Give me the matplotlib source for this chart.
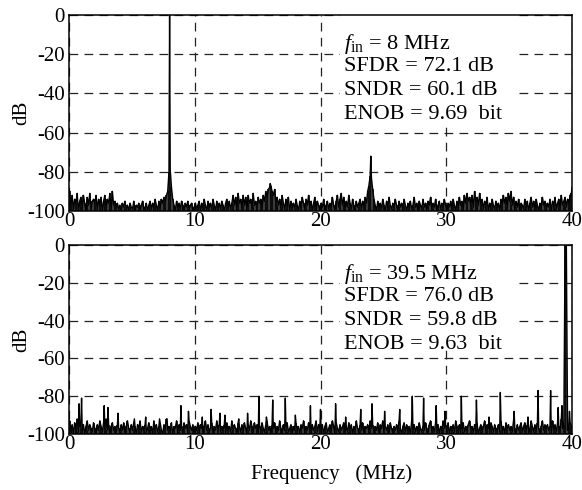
import numpy as np
import matplotlib

matplotlib.use("Agg")

import matplotlib.pyplot as plt
from matplotlib.patches import Rectangle

plt.rcParams["font.family"] = ["Liberation Serif", "DejaVu Serif"]
plt.rcParams["mathtext.fontset"] = "custom"
plt.rcParams["mathtext.rm"] = "Liberation Serif"
plt.rcParams["mathtext.it"] = "Liberation Serif:italic"
plt.rcParams["axes.unicode_minus"] = False
plt.rcParams["font.size"] = 15

# FFT bins (MHz), noise floor, one row per 2 MHz
bin_mhz = np.arange(0.05, 40.0, 0.1)

top_noise_db = [
    -90, -97, -92, -99, -94, -96, -91, -100, -95, -93, -98, -92, -96, -100, -93, -97, -91, -99, -95, -94,
    -96, -92, -99, -94, -97, -93, -100, -95, -92, -98, -94, -96, -91, -99, -90, -97, -95, -98, -96, -99,
    -97, -100, -96, -98, -95, -99, -97, -100, -96, -98, -99, -95, -100, -97, -98, -96, -100, -97, -95, -99,
    -98, -96, -100, -97, -95, -99, -96, -98, -94, -97, -100, -95, -98, -94, -96, -93, -95, -92, -90, -80,
    -79, -88, -94, -97, -100, -95, -98, -96, -99, -95, -97, -100, -96, -98, -95, -99, -97, -96, -100, -98,
    -96, -99, -97, -95, -100, -96, -98, -94, -97, -100, -95, -98, -96, -99, -94, -97, -100, -95, -98, -96,
    -99, -95, -97, -100, -96, -94, -98, -95, -99, -96, -92, -97, -93, -99, -91, -96, -94, -98, -92, -97,
    -93, -99, -92, -96, -94, -98, -91, -97, -95, -99, -93, -96, -94, -98, -92, -95, -90, -93, -89, -88,
    -87, -90, -92, -89, -95, -93, -97, -94, -98, -92, -96, -99, -94, -97, -93, -100, -95, -98, -96, -99,
    -94, -97, -100, -95, -98, -93, -96, -99, -94, -97, -92, -98, -95, -100, -96, -93, -99, -95, -97, -100,
    -96, -98, -94, -100, -97, -95, -99, -96, -98, -93, -97, -100, -95, -92, -98, -94, -91, -97, -93, -99,
    -95, -98, -92, -96, -99, -94, -97, -100, -95, -98, -96, -94, -99, -95, -97, -93, -96, -90, -87, -82,
    -83, -89, -94, -97, -100, -95, -98, -96, -99, -94, -97, -100, -95, -98, -93, -97, -99, -96, -98, -94,
    -97, -100, -95, -98, -96, -99, -94, -97, -100, -96, -98, -95, -99, -97, -93, -98, -96, -100, -95, -97,
    -99, -94, -98, -96, -100, -95, -97, -93, -99, -96, -98, -94, -100, -97, -95, -99, -96, -98, -94, -97,
    -100, -96, -98, -95, -99, -94, -97, -100, -95, -98, -93, -97, -95, -99, -92, -96, -91, -95, -93, -97,
    -92, -98, -90, -95, -93, -97, -91, -96, -94, -99, -95, -97, -93, -100, -96, -98, -94, -97, -99, -95,
    -98, -96, -100, -94, -97, -92, -96, -93, -98, -91, -95, -90, -97, -93, -99, -95, -98, -94, -100, -96,
    -97, -99, -94, -98, -95, -100, -96, -93, -98, -95, -99, -94, -97, -100, -96, -98, -93, -97, -95, -99,
    -96, -98, -94, -100, -95, -97, -93, -99, -96, -94, -98, -92, -97, -95, -93, -98, -94, -96, -92, -91,
]
top_spur_mhz = [8.0, 16.0, 24.0, 40.0]
top_spur_db = [0, -86, -72, -88]

bot_noise_db = [
    -93, -98, -95, -100, -94, -97, -92, -99, -96, -94, -98, -95, -100, -96, -93, -98, -95, -97, -99, -94,
    -97, -100, -95, -98, -93, -96, -99, -94, -97, -92, -98, -95, -100, -96, -94, -98, -96, -99, -95, -97,
    -99, -95, -98, -94, -100, -96, -93, -97, -99, -95, -98, -94, -96, -100, -95, -97, -93, -99, -96, -98,
    -95, -99, -97, -94, -98, -96, -100, -93, -97, -95, -99, -96, -94, -98, -100, -95, -97, -92, -98, -96,
    -98, -94, -100, -96, -97, -93, -99, -95, -98, -96, -100, -94, -97, -95, -99, -93, -96, -98, -95, -100,
    -96, -98, -94, -99, -95, -97, -100, -96, -93, -98, -95, -99, -97, -94, -100, -96, -98, -93, -97, -95,
    -99, -96, -98, -95, -100, -94, -97, -96, -99, -93, -98, -95, -97, -100, -94, -96, -99, -95, -98, -94,
    -97, -100, -95, -98, -93, -96, -99, -94, -97, -95, -100, -96, -98, -94, -97, -99, -95, -93, -98, -96,
    -100, -95, -97, -94, -99, -96, -98, -93, -97, -100, -95, -98, -96, -94, -99, -97, -95, -100, -96, -98,
    -94, -98, -96, -100, -95, -97, -93, -99, -96, -98, -94, -97, -100, -95, -98, -96, -93, -99, -95, -97,
    -98, -95, -100, -96, -94, -99, -97, -95, -98, -93, -96, -100, -94, -97, -99, -95, -98, -96, -94, -100,
    -96, -99, -94, -97, -95, -100, -96, -98, -93, -97, -99, -95, -98, -94, -100, -96, -97, -95, -99, -93,
    -97, -95, -99, -96, -98, -94, -100, -95, -97, -93, -99, -96, -98, -95, -100, -94, -97, -99, -96, -98,
    -95, -98, -93, -97, -100, -96, -94, -99, -95, -98, -96, -100, -93, -97, -95, -99, -96, -98, -94, -97,
    -99, -96, -98, -94, -97, -100, -95, -93, -98, -96, -99, -94, -97, -95, -100, -96, -98, -93, -97, -95,
    -98, -94, -100, -96, -97, -95, -99, -93, -96, -98, -95, -100, -97, -94, -99, -96, -98, -95, -93, -97,
    -96, -99, -95, -98, -94, -100, -97, -95, -99, -96, -93, -98, -95, -97, -100, -94, -96, -99, -95, -98,
    -97, -95, -99, -93, -98, -96, -100, -94, -97, -95, -98, -96, -99, -93, -97, -100, -95, -98, -96, -94,
    -99, -96, -94, -98, -95, -100, -97, -93, -96, -99, -95, -98, -94, -97, -100, -96, -93, -98, -95, -97,
    -95, -98, -96, -100, -93, -97, -95, -99, -94, -96, -98, -92, -97, -95, 0, 0, -98, -97, -94, -96,
]
bot_spur_mhz = [0.8, 1.0, 2.8, 3.1, 3.9, 5.2, 6.1, 7.2, 7.8, 8.9, 9.5, 10.6, 11.3, 12.0, 12.4,
                13.5, 14.2, 15.1, 15.7, 16.2, 17.2, 18.0, 19.2, 20.0, 21.2, 22.0, 23.2, 24.1, 25.1, 26.3,
                27.3, 28.2, 29.2, 29.9, 31.2, 32.4, 33.4, 34.3, 35.4, 36.5, 37.3, 38.3, 38.9, 39.2, 39.8]
bot_spur_db = [-84, -81, -85, -86, -89, -92, -91, -92, -92, -85, -88, -91, -87, -89, -90,
               -92, -89, -80, -91, -82, -81, -90, -85, -87, -84, -91, -87, -84, -88, -87,
               -80, -81, -85, -88, -80, -82, -91, -78, -88, -91, -77, -77, -86, -85, -88]

top_notes = ["$f_{\\mathrm{in}}$ = 8 MHz", "SFDR = 72.1 dB", "SNDR = 60.1 dB", "ENOB = 9.69  bit"]
bot_notes = ["$f_{\\mathrm{in}}$ = 39.5 MHz", "SFDR = 76.0 dB", "SNDR = 59.8 dB", "ENOB = 9.63  bit"]
x_ticks = [0, 10, 20, 30, 40]
y_ticks = [0, -20, -40, -60, -80, -100]


def spectrum(noise_db, spur_mhz, spur_db):
    f = np.concatenate([bin_mhz, spur_mhz])
    p = np.concatenate([noise_db, spur_db])
    order = np.argsort(f, kind="stable")
    return f[order], p[order]


def draw_panel(ax, noise_db, spur_mhz, spur_db, notes):
    f, p = spectrum(noise_db, spur_mhz, spur_db)
    ax.vlines(bin_mhz, -100, noise_db, color="k", lw=1.1, zorder=3)
    ax.plot(f, p, color="k", lw=1.0, zorder=3)
    ax.set_xlim(0, 40)
    ax.set_ylim(-100, 0)
    ax.set_xticks(x_ticks)
    ax.set_yticks(y_ticks)
    ax.grid(True, color="#222222", lw=0.9, linestyle=(0, (7, 5)))
    ax.tick_params(direction="in", length=0, pad=3)
    ax.tick_params(axis="x", pad=1)
    for s in ax.spines.values():
        s.set_linewidth(1.1)
        s.set_zorder(4)
    ax.set_ylabel("dB", labelpad=-3)
    # white panel behind the figures of merit, hides the grid there
    ax.add_patch(Rectangle((0.538, 0.45), 0.357, 0.55, transform=ax.transAxes,
                           facecolor="white", edgecolor="none", zorder=2))
    for i, line in enumerate(notes):
        ax.annotate(line, xy=(0.546, 1.0), xycoords="axes fraction",
                    xytext=(0, -25 - 24 * i), textcoords="offset pixels",
                    ha="left", va="center_baseline", fontsize=16, zorder=5)


fig = plt.figure(figsize=(5.82, 4.90), dpi=100)
ax_top = fig.add_axes([69 / 582, 1 - 211 / 490, 503 / 582, 196 / 490])
ax_bot = fig.add_axes([69 / 582, 1 - 434 / 490, 503 / 582, 189 / 490])

draw_panel(ax_top, top_noise_db, top_spur_mhz, top_spur_db, top_notes)
draw_panel(ax_bot, bot_noise_db, bot_spur_mhz, bot_spur_db, bot_notes)
ax_bot.set_xlabel("Frequency   (MHz)")
ax_bot.xaxis.set_label_coords(0.522, -0.16)

fig.savefig("out.png", dpi=100)
